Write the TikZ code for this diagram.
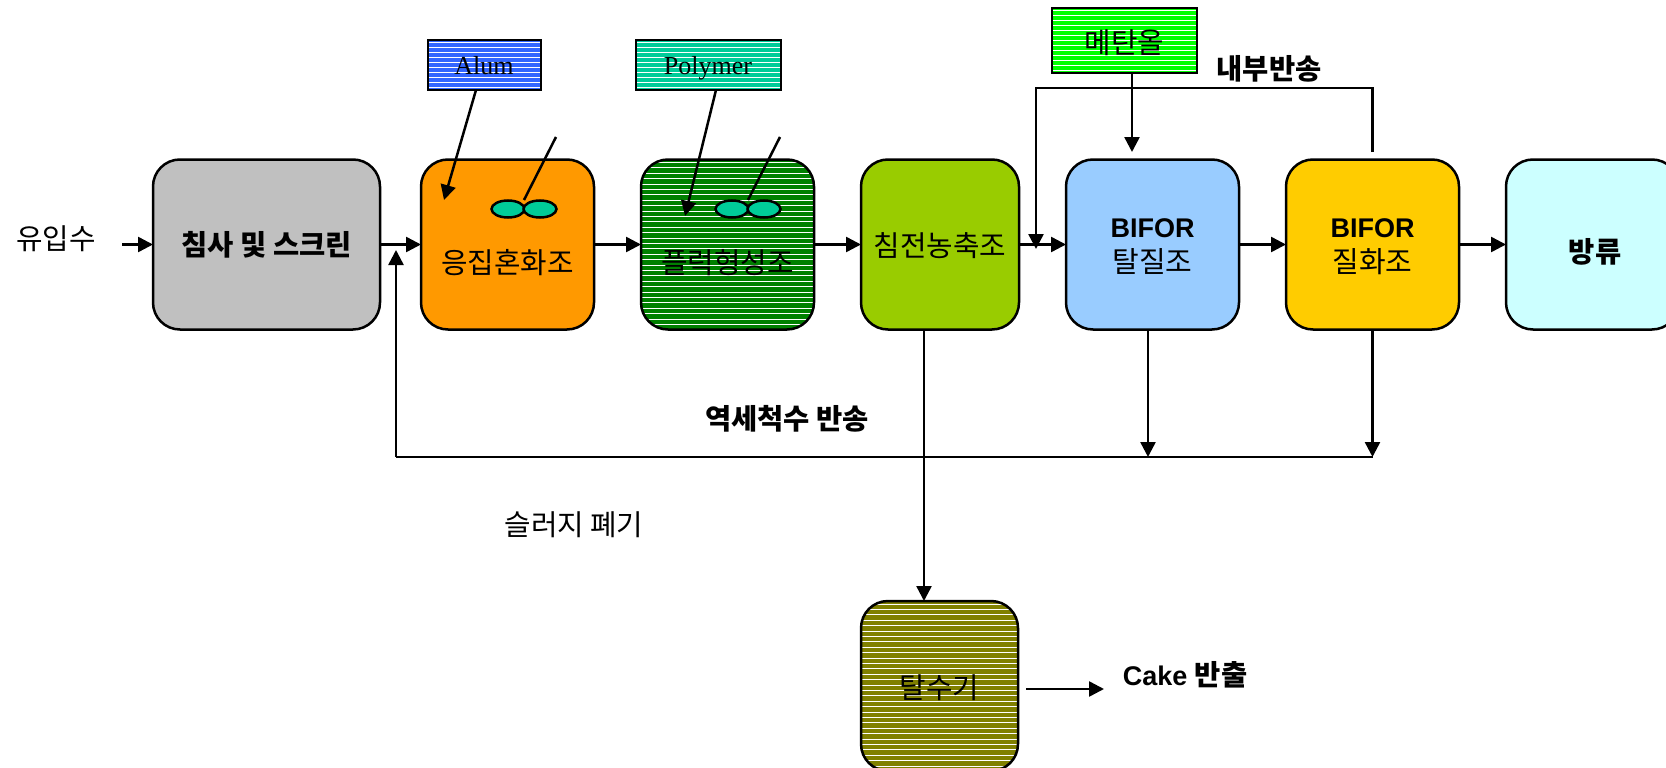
\documentclass[tikz,border=0pt]{standalone}
\usepackage{fontspec}
\usepackage{tikz}
\usetikzlibrary{positioning}
\usetikzlibrary{arrows.meta}
\usetikzlibrary{shapes.geometric}
\setmainfont{Liberation Sans}
\newfontfamily\krfont{Noto Sans CJK KR}
\newfontfamily\serfont{Liberation Serif}
\definecolor{grayfill}{HTML}{C0C0C0}
\definecolor{orangefill}{HTML}{FF9900}
\definecolor{greenfill}{HTML}{008000}
\definecolor{limefill}{HTML}{99CC00}
\definecolor{bluefill}{HTML}{99CCFF}
\definecolor{yellowfill}{HTML}{FFCC00}
\definecolor{cyanfill}{HTML}{CCFFFF}
\definecolor{olivefill}{HTML}{808000}
\definecolor{tealfill}{HTML}{00CC99}
\definecolor{alumfill}{HTML}{3366FF}
\definecolor{methfill}{HTML}{00FF00}
\tikzset{
	tank/.style={draw,line width=2.5pt,rectangle,rounded corners=27pt,inner sep=0pt,outer sep=0pt,minimum width=173pt,minimum height=170pt},
	dosebox/.style={draw,line width=2.5pt,rectangle,inner sep=0pt,outer sep=0pt,minimum height=50pt},
	paddle/.style={draw,line width=2.5pt,ellipse,fill=tealfill,inner sep=0pt,minimum width=33pt,minimum height=17pt},
	krtext/.style={inner sep=0pt,font=\fontsize{28.8}{34}\selectfont\krfont},
	krbold/.style={inner sep=0pt,font=\fontsize{28.5}{34}\selectfont\krfont\bfseries},
	sertext/.style={inner sep=0pt,font=\fontsize{26}{30}\selectfont\serfont},
	bifor/.style={align=center,inner sep=0pt,font=\fontsize{27}{35}\selectfont},
	flow/.style={line width=2.5pt,-{Triangle[length=15pt,width=15pt]}},
	pipe/.style={line width=2.5pt},
	% white lines over the fill
	stripes/.style={path picture={
		\foreach \k in {0,...,40} {
			\draw[white,line width=1pt] ([yshift=-#1*\k pt-3pt]path picture bounding box.north west) -- ([yshift=-#1*\k pt-3pt]path picture bounding box.north east);
		}
	}}
}
\begin{document}
\begin{tikzpicture}[x=1pt,y=-1pt]
	\useasboundingbox (0,0) rectangle (1666,768);
	% main line of tanks
	\node[tank,fill=grayfill,minimum width=227pt] (screen) at (266.5,244.5) {};
	\node[tank,fill=orangefill,right=41pt of screen] (coag) {};
	\node[tank,fill=greenfill,stripes=5.4,right=47pt of coag] (floc) {};
	\node[tank,fill=limefill,minimum width=158pt,right=47pt of floc] (settle) {};
	\node[tank,fill=bluefill,right=47pt of settle] (denit) {};
	\node[tank,fill=yellowfill,right=47pt of denit] (nitr) {};
	\node[tank,fill=cyanfill,right=47pt of nitr] (outlet) {};
	\node[tank,fill=olivefill,stripes=5.4,minimum width=157pt] (dewater) at (939.5,686) {};
	% dosing boxes
	\node[dosebox,fill=alumfill,stripes=5,minimum width=113pt] (alum) at (484.5,65) {};
	\node[dosebox,fill=tealfill,stripes=5,minimum width=145pt] (polymer) at (708.5,65) {};
	\node[dosebox,fill=methfill,stripes=5,minimum width=145pt,minimum height=65pt] (meth) at (1124.5,40.5) {};
	% stirrers
	\node[paddle] (padA) at (508,209) {};
	\node[paddle] (padB) at (540,209) {};
	\node[paddle] (padC) at (732,209) {};
	\node[paddle] (padD) at (764,209) {};
	% labels
	\node[krtext] (inlabel) at (56,239) {유입수};
	\node[krbold] (screentxt) at (266.5,245) {침사 및 스크린};
	\node[krtext] (coagtxt) at (507.5,263) {응집혼화조};
	\node[krtext] (floctxt) at (727.5,263) {플럭형성조};
	\node[krtext] (settletxt) at (940,246) {침전농축조};
	\node[bifor] (denittxt) at (1152.5,247) {\bfseries BIFOR\\\fontsize{29}{35}\selectfont\krfont 탈질조};
	\node[bifor] (nitrtxt) at (1372.5,247) {\bfseries BIFOR\\\fontsize{29}{35}\selectfont\krfont 질화조};
	\node[krbold] (outtxt) at (1595,252) {방류};
	\node[krtext] (dewatertxt) at (939.5,688) {탈수기};
	\node[sertext] (alumtxt) at (484,66) {Alum};
	\node[sertext] (polytxt) at (708,68) {Polymer};
	\node[krtext] (methtxt) at (1124.5,43) {메탄올};
	\node[krbold] (inner) at (1269,69) {내부반송};
	\node[krbold] (back) at (787,419) {역세척수 반송};
	\node[krtext] (sludge) at (574,525) {슬러지 폐기};
	\node[inner sep=0pt,font=\fontsize{27}{32}\selectfont\bfseries] (cake) at (1185,675) {Cake {\fontsize{28.5}{32}\selectfont\krfont 반출}};
	% free ends
	\coordinate (instart) at (122,244.5);
	\coordinate (cakestart) at (1026,689);
	\coordinate (caketip) at (1104,689);
	\coordinate (alumstart) at (476,90);
	\coordinate (alumtip) at (444,200);
	\coordinate (polystart) at (716,90);
	\coordinate (polytip) at (685,216);
	\coordinate (methtip) at (1132,152);
	\coordinate (recycletop) at (1372.5,152);
	\coordinate (recycleA) at (1372.5,88);
	\coordinate (recycleB) at (1036,88);
	\coordinate (recycletip) at (1036,249);
	\coordinate (backleft) at (396,457);
	\coordinate (backright) at (1372.5,457);
	\coordinate (backtip) at (396,250);
	\coordinate (denitdrop) at (1148,457);
	\coordinate (sludgestart) at (924,329);
	\coordinate (sludgetip) at (924,601);
	\coordinate (stirA) at (556,137);
	\coordinate (stirAend) at (524,200);
	\coordinate (stirB) at (780,137);
	\coordinate (stirBend) at (748,200);
	% main flow
	\draw[flow] (instart) -- (screen);
	\draw[flow] (screen) -- (coag);
	\draw[flow] (coag) -- (floc);
	\draw[flow] (floc) -- (settle);
	\draw[flow] (settle) -- (denit);
	\draw[flow] (denit) -- (nitr);
	\draw[flow] (nitr) -- (outlet);
	\draw[flow] (cakestart) -- (caketip);
	% dosing
	\draw[flow] (alumstart) -- (alumtip);
	\draw[flow] (polystart) -- (polytip);
	\draw[flow] (meth.south -| methtip) -- (methtip);
	% stirrers
	\draw[pipe] (stirA) -- (stirAend);
	\draw[pipe] (stirB) -- (stirBend);
	% recycles
	\draw[flow] (recycletop) -- (recycleA) -- (recycleB) -- (recycletip);
	\draw[flow] (nitr.south -| backright) -- (backright);
	\draw[flow] (denit.south -| denitdrop) -- (denitdrop);
	\draw[pipe] (backright) -- (backleft);
	\draw[flow] (backleft) -- (backtip);
	\draw[flow] (sludgestart) -- (sludgetip);
\end{tikzpicture}
\end{document}
